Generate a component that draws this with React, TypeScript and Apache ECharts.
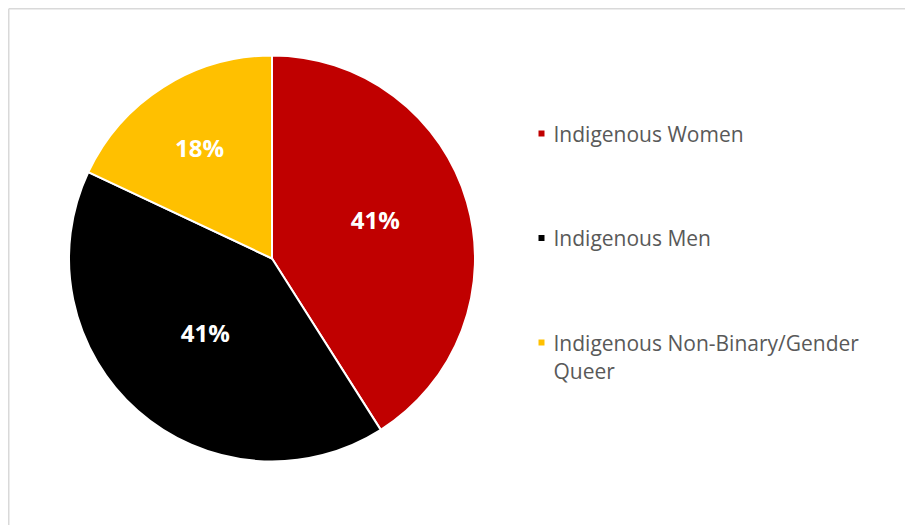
import React, { useEffect, useRef } from "react";
import * as echarts from "echarts";

const categories = ["Indigenous Women", "Indigenous Men", "Indigenous Non-Binary/Gender Queer"];
const values = [41, 41, 18];
const colors = ["#C00000", "#000000", "#FFC000"];
// legend text as shown (leading blank line keeps the marker beside the first line)
const legendLines = ["Indigenous Women", "Indigenous Men", "\nIndigenous Non-Binary/Gender\nQueer"];

// label nudges (px) relative to ECharts' default inside position
const labelNudge = [
  { dx: 3, dy: -10 },
  { dx: 2.5, dy: -4 },
  { dx: -16.5, dy: -22.5 },
];

const FONT = "'Open Sans', 'Noto Sans', sans-serif";

export default function App() {
  const ref = useRef<HTMLDivElement>(null);

  useEffect(() => {
    if (!ref.current) return;
    const chart = echarts.init(ref.current, null, { renderer: "svg" });

    const legendTops = [119.5, 224, 300.5];
    const legends = categories.map((name, i) => ({
      show: true,
      orient: "vertical" as const,
      left: 536.5,
      top: legendTops[i],
      padding: 0,
      itemWidth: 8,
      itemHeight: 8,
      icon: "rect",
      selectedMode: false,
      data: [name],
      formatter: () => legendLines[i],
      textStyle: {
        color: "#595959",
        fontSize: 21,
        fontFamily: FONT,
        lineHeight: 28,
        padding: [0, 0, 0, 3],
      },
    }));

    chart.setOption({
      animation: false,
      backgroundColor: "#ffffff",
      legend: legends,
      graphic: [
        {
          type: "line",
          shape: { x1: 8.75, y1: 8.75, x2: 905, y2: 8.75 },
          style: { stroke: "#d9d9d9", lineWidth: 1.5 },
          silent: true,
        },
        {
          type: "line",
          shape: { x1: 8.75, y1: 8.75, x2: 8.75, y2: 525 },
          style: { stroke: "#d9d9d9", lineWidth: 1.5 },
          silent: true,
        },
      ],
      series: [
        {
          type: "pie",
          center: [272, 258.5],
          radius: [0, 203],
          startAngle: 90,
          clockwise: true,
          avoidLabelOverlap: false,
          data: categories.map((name, i) => ({
            name,
            value: values[i],
            itemStyle: { color: colors[i] },
          })),
          itemStyle: { borderColor: "#ffffff", borderWidth: 2 },
          label: {
            show: true,
            position: "inside",
            formatter: (p: any) => `${p.value}%`,
            color: "#ffffff",
            fontSize: 24,
            fontWeight: "bold",
            fontFamily: FONT,
          },
          labelLine: { show: false },
          labelLayout: (params: any) => labelNudge[params.dataIndex],
          emphasis: { disabled: true },
        },
      ],
    });

    return () => chart.dispose();
  }, []);

  return (
    <div
      ref={ref}
      style={{ position: "fixed", left: 0, top: 0, width: 905, height: 525 }}
    />
  );
}
